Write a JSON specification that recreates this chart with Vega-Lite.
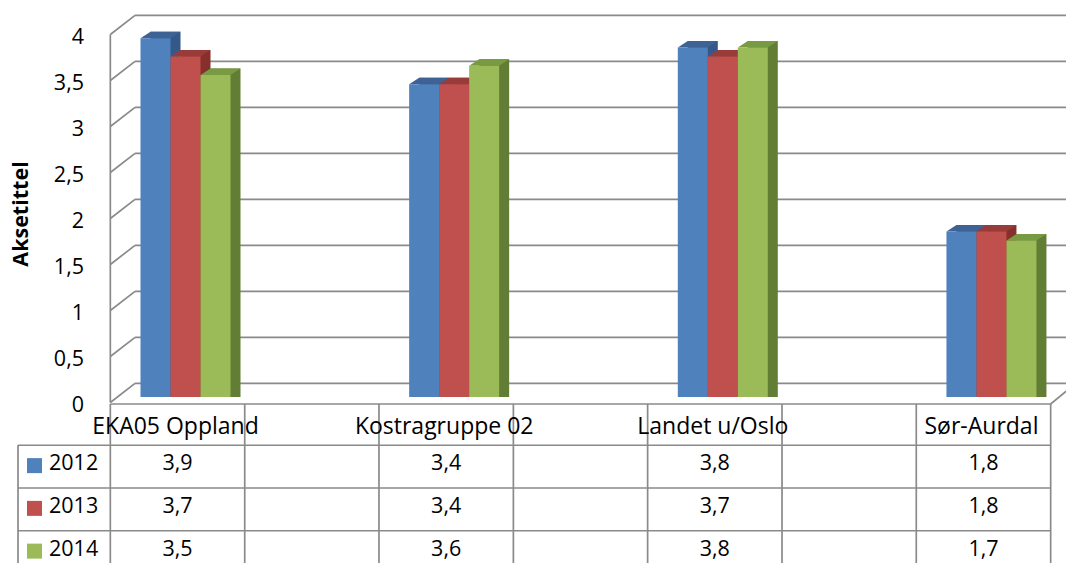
{
  "$schema": "https://vega.github.io/schema/vega-lite/v6.json",
  "width": 1066,
  "height": 563,
  "padding": 0,
  "autosize": {"type": "none"},
  "background": "white",
  "config": {
    "view": {"stroke": null},
    "font": "Open Sans",
    "axis": {"disable": true},
    "legend": {"disable": true},
    "locale": {"number": {"decimal": ",", "thousands": " ", "grouping": [3], "currency": ["", ""]}}
  },
  "datasets": {
    "bars": [
      {"cat": "EKA05 Oppland", "year": "2012", "value": 3.9},
      {"cat": "EKA05 Oppland", "year": "2013", "value": 3.7},
      {"cat": "EKA05 Oppland", "year": "2014", "value": 3.5},
      {"cat": "Kostragruppe 02", "year": "2012", "value": 3.4},
      {"cat": "Kostragruppe 02", "year": "2013", "value": 3.4},
      {"cat": "Kostragruppe 02", "year": "2014", "value": 3.6},
      {"cat": "Landet u/Oslo", "year": "2012", "value": 3.8},
      {"cat": "Landet u/Oslo", "year": "2013", "value": 3.7},
      {"cat": "Landet u/Oslo", "year": "2014", "value": 3.8},
      {"cat": "Sør-Aurdal", "year": "2012", "value": 1.8},
      {"cat": "Sør-Aurdal", "year": "2013", "value": 1.8},
      {"cat": "Sør-Aurdal", "year": "2014", "value": 1.7}
    ],
    "ticks": [
      {"v": 0}, {"v": 0.5}, {"v": 1}, {"v": 1.5}, {"v": 2},
      {"v": 2.5}, {"v": 3}, {"v": 3.5}, {"v": 4}
    ],
    "cats": [
      {"cat": "EKA05 Oppland"}, {"cat": "Kostragruppe 02"}, {"cat": "Landet u/Oslo"}, {"cat": "Sør-Aurdal"}
    ],
    "years": [{"year": "2012"}, {"year": "2013"}, {"year": "2014"}],
    "title": [{"t": "Aksetittel"}]
  },
  "resolve": {"scale": {"y": "independent", "color": "independent"}},
  "layer": [
    {
      "resolve": {"scale": {"color": "independent", "xOffset": "independent"}},
      "layer": [
        {
          "data": {"name": "ticks"},
          "mark": {"type": "rule", "color": "#8A8A8A", "strokeWidth": 1.7, "xOffset": -42.5, "x2Offset": 82.5, "yOffset": -13.7},
          "encoding": {
            "x": {"datum": "EKA05 Oppland", "type": "nominal", "scale": {"type": "band", "domain": ["EKA05 Oppland", "Kostragruppe 02", "Landet u/Oslo", "Sør-Aurdal"], "range": [43.2, 1117.8], "paddingInner": 0, "paddingOuter": 0}},
            "x2": {"datum": "Sør-Aurdal"},
            "y": {"field": "v", "type": "quantitative", "scale": {"domain": [-1.8043, 4.3152], "nice": false, "zero": false}}
          }
        },
        {
          "data": {"name": "ticks"},
          "mark": {"type": "rule", "color": "#8A8A8A", "strokeWidth": 1.7, "xOffset": -67.2, "x2Offset": -42.5, "yOffset": 5.5, "y2Offset": -13.7},
          "encoding": {
            "x": {"datum": "EKA05 Oppland", "type": "nominal"},
            "x2": {"datum": "EKA05 Oppland"},
            "y": {"field": "v", "type": "quantitative"},
            "y2": {"field": "v"}
          }
        },
        {
          "data": {"values": [{}]},
          "mark": {"type": "rule", "color": "#8A8A8A", "strokeWidth": 1.7, "xOffset": -67.2, "yOffset": 5.5, "y2Offset": 5.5},
          "encoding": {
            "x": {"datum": "EKA05 Oppland", "type": "nominal"},
            "y": {"datum": 0, "type": "quantitative"},
            "y2": {"datum": 4}
          }
        },
        {
          "data": {"values": [{}]},
          "mark": {"type": "rule", "color": "#8A8A8A", "strokeWidth": 1.7, "xOffset": 67.2, "x2Offset": 92.2, "yOffset": 7, "y2Offset": -13.7},
          "encoding": {
            "x": {"datum": "Sør-Aurdal", "type": "nominal"},
            "x2": {"datum": "Sør-Aurdal"},
            "y": {"datum": 0, "type": "quantitative"},
            "y2": {"datum": 0}
          }
        },
        {
          "data": {"values": [{}]},
          "mark": {"type": "rule", "color": "#8A8A8A", "strokeWidth": 1.7, "xOffset": -67.2, "x2Offset": 67.2, "yOffset": 7},
          "encoding": {
            "x": {"datum": "EKA05 Oppland", "type": "nominal"},
            "x2": {"datum": "Sør-Aurdal"},
            "y": {"datum": 0, "type": "quantitative"}
          }
        },
        {
          "data": {"name": "cats"},
          "mark": {"type": "rule", "color": "#8A8A8A", "strokeWidth": 1.7, "xOffset": -67.2, "yOffset": 7},
          "encoding": {
            "x": {"field": "cat", "type": "nominal"},
            "y": {"datum": 0, "type": "quantitative"},
            "y2": {"datum": -2}
          }
        },
        {
          "data": {"name": "cats"},
          "mark": {"type": "rule", "color": "#8A8A8A", "strokeWidth": 1.7, "xOffset": 67.2, "yOffset": 7},
          "encoding": {
            "x": {"field": "cat", "type": "nominal"},
            "y": {"datum": 0, "type": "quantitative"},
            "y2": {"datum": -2}
          }
        },
        {
          "data": {"values": [{}]},
          "mark": {"type": "rule", "color": "#8A8A8A", "strokeWidth": 1.7, "xOffset": -159.5, "yOffset": 48},
          "encoding": {
            "x": {"datum": "EKA05 Oppland", "type": "nominal"},
            "y": {"datum": 0, "type": "quantitative"},
            "y2": {"datum": -2}
          }
        },
        {
          "data": {"name": "ticks"},
          "mark": {"type": "text", "align": "right", "baseline": "middle", "fontSize": 21.5, "color": "#000000", "xOffset": -93.5, "yOffset": 9},
          "encoding": {
            "x": {"datum": "EKA05 Oppland", "type": "nominal"},
            "y": {"field": "v", "type": "quantitative"},
            "text": {"field": "v", "type": "quantitative", "format": ".1~f"}
          }
        },
        {
          "data": {"name": "title"},
          "mark": {"type": "text", "align": "center", "baseline": "middle", "angle": 270, "fontSize": 21.5, "fontWeight": "bold", "color": "#000000", "xOffset": -155.5, "yOffset": 1},
          "encoding": {
            "x": {"datum": "EKA05 Oppland", "type": "nominal"},
            "y": {"datum": 2, "type": "quantitative"},
            "text": {"field": "t", "type": "nominal"}
          }
        },
        {
          "data": {"name": "bars"},
          "mark": {"type": "bar", "yOffset": -6.5},
          "encoding": {
            "x": {"field": "cat", "type": "nominal"},
            "xOffset": {"field": "year", "type": "nominal", "scale": {"type": "band", "domain": ["2012", "2013", "2014"], "range": [107.3, 197.3], "paddingInner": 0, "paddingOuter": 0}},
            "y": {"field": "value", "type": "quantitative"},
            "y2": {"datum": 0},
            "color": {"field": "year", "type": "nominal", "scale": {"domain": ["2012", "2013", "2014"], "range": ["#35588A", "#862F2D", "#627D34"]}}
          }
        },
        {
          "data": {"name": "bars"},
          "mark": {"type": "point", "filled": true, "opacity": 1, "strokeWidth": 0, "size": 400, "shape": "M-1.5,0L1.5,0L2.5,-0.65L-0.5,-0.65Z"},
          "encoding": {
            "x": {"field": "cat", "type": "nominal"},
            "xOffset": {"field": "year", "type": "nominal", "scale": {"type": "band", "domain": ["2012", "2013", "2014"], "range": [97.3, 187.3], "paddingInner": 0, "paddingOuter": 0}},
            "y": {"field": "value", "type": "quantitative"},
            "color": {"field": "year", "type": "nominal", "scale": {"domain": ["2012", "2013", "2014"], "range": ["#3D6293", "#993B38", "#789A42"]}}
          }
        },
        {
          "data": {"name": "bars"},
          "mark": {"type": "point", "filled": true, "opacity": 1, "strokeWidth": 0, "size": 400, "shape": "M1.5,-0.65L1.5,0L2.5,-0.65Z"},
          "encoding": {
            "x": {"field": "cat", "type": "nominal"},
            "xOffset": {"field": "year", "type": "nominal", "scale": {"type": "band", "domain": ["2012", "2013", "2014"], "range": [97.3, 187.3], "paddingInner": 0, "paddingOuter": 0}},
            "y": {"datum": 0, "type": "quantitative"},
            "color": {"field": "year", "type": "nominal", "scale": {"domain": ["2012", "2013", "2014"], "range": ["#35588A", "#862F2D", "#627D34"]}}
          }
        },
        {
          "data": {"name": "bars"},
          "mark": {"type": "bar"},
          "encoding": {
            "x": {"field": "cat", "type": "nominal"},
            "xOffset": {"field": "year", "type": "nominal", "scale": {"type": "band", "domain": ["2012", "2013", "2014"], "range": [97.3, 187.3], "paddingInner": 0, "paddingOuter": 0}},
            "y": {"field": "value", "type": "quantitative"},
            "y2": {"datum": 0},
            "color": {"field": "year", "type": "nominal", "scale": {"domain": ["2012", "2013", "2014"], "range": ["#4F81BD", "#C0504D", "#9BBB59"]}}
          }
        }
      ]
    },
    {
      "layer": [
        {
          "data": {"name": "years"},
          "mark": {"type": "rule", "color": "#8A8A8A", "strokeWidth": 1.7, "xOffset": -159.5, "x2Offset": 67.2},
          "encoding": {
            "x": {"datum": "EKA05 Oppland", "type": "nominal"},
            "x2": {"datum": "Sør-Aurdal"},
            "y": {"field": "year", "type": "ordinal", "bandPosition": 0, "scale": {"type": "band", "domain": ["hdr", "2012", "2013", "2014"], "range": [402.5, 573.5], "paddingInner": 0, "paddingOuter": 0}}
          }
        },
        {
          "data": {"name": "cats"},
          "mark": {"type": "text", "align": "center", "baseline": "middle", "fontSize": 23, "color": "#000000", "xOffset": -2, "yOffset": 3},
          "encoding": {
            "x": {"field": "cat", "type": "nominal"},
            "y": {"datum": "hdr", "type": "ordinal"},
            "text": {"field": "cat", "type": "nominal"}
          }
        },
        {
          "data": {"name": "bars"},
          "mark": {"type": "text", "align": "center", "baseline": "middle", "fontSize": 21.5, "color": "#000000", "yOffset": -2.5},
          "encoding": {
            "x": {"field": "cat", "type": "nominal"},
            "y": {"field": "year", "type": "ordinal"},
            "text": {"field": "value", "type": "quantitative", "format": ".1f"}
          }
        },
        {
          "data": {"name": "years"},
          "mark": {"type": "point", "shape": "square", "filled": true, "opacity": 1, "strokeWidth": 0, "size": 225, "xOffset": -143, "yOffset": -1},
          "encoding": {
            "x": {"datum": "EKA05 Oppland", "type": "nominal"},
            "y": {"field": "year", "type": "ordinal"},
            "color": {"field": "year", "type": "nominal", "scale": {"domain": ["2012", "2013", "2014"], "range": ["#4F81BD", "#C0504D", "#9BBB59"]}}
          }
        },
        {
          "data": {"name": "years"},
          "mark": {"type": "text", "align": "left", "baseline": "middle", "fontSize": 21.5, "color": "#000000", "xOffset": -128.5, "yOffset": -2.5},
          "encoding": {
            "x": {"datum": "EKA05 Oppland", "type": "nominal"},
            "y": {"field": "year", "type": "ordinal"},
            "text": {"field": "year", "type": "nominal"}
          }
        }
      ]
    }
  ]
}
